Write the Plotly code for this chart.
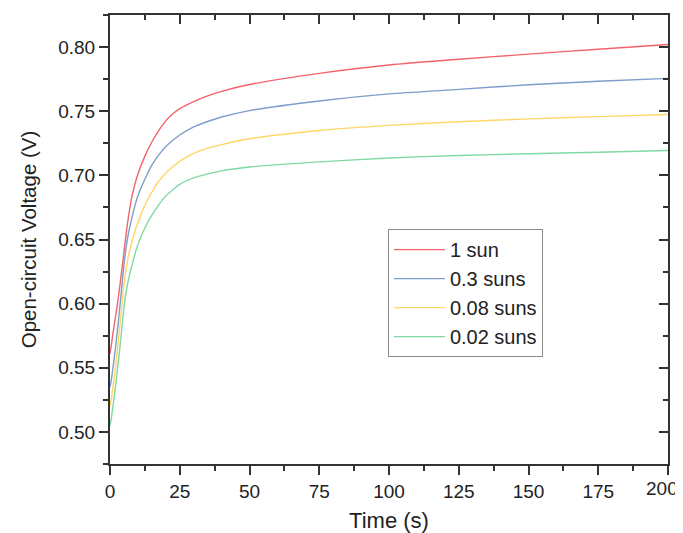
import plotly.graph_objects as go

# ---- data ----
t_red = [0, 0.5, 1, 2, 3, 4, 5, 6, 7, 8, 10, 12.5, 15, 17.5, 20, 22.5, 25, 30, 35, 40, 50, 75, 100, 125, 150, 175, 200]
v_red = [0.561, 0.568, 0.576, 0.590, 0.605, 0.622, 0.640, 0.658, 0.673, 0.685, 0.701, 0.715, 0.726, 0.735, 0.7425, 0.748, 0.752, 0.7575, 0.762, 0.7655, 0.7708, 0.7795, 0.786, 0.7905, 0.7945, 0.7983, 0.802]

t_blue = [0, 0.5, 1, 2, 3, 4, 5, 6, 7, 8, 9, 10.5, 12.5, 15, 17.5, 20, 25, 30, 35, 40, 50, 75, 100, 125, 150, 175, 200]
v_blue = [0.535, 0.541, 0.549, 0.566, 0.586, 0.608, 0.630, 0.647, 0.659, 0.668, 0.677, 0.687, 0.697, 0.708, 0.716, 0.7225, 0.7315, 0.7378, 0.742, 0.7455, 0.7505, 0.758, 0.7635, 0.767, 0.7706, 0.7734, 0.7756]

t_yel = [0, 0.5, 1, 2, 3, 4, 5, 6, 7, 9, 11, 13, 15, 18, 22, 28, 34, 40, 50, 75, 100, 125, 150, 175, 200]
v_yel = [0.520, 0.526, 0.534, 0.551, 0.571, 0.593, 0.615, 0.630, 0.641, 0.657, 0.669, 0.679, 0.687, 0.697, 0.706, 0.715, 0.7205, 0.724, 0.7285, 0.735, 0.739, 0.7418, 0.7440, 0.7458, 0.7474]

t_grn = [0, 0.5, 1, 2, 3, 4, 5, 6, 8, 10, 12.5, 15, 17.5, 20, 25, 30, 40, 50, 75, 100, 125, 150, 175, 200]
v_grn = [0.505, 0.511, 0.519, 0.536, 0.555, 0.575, 0.597, 0.612, 0.631, 0.646, 0.659, 0.669, 0.677, 0.684, 0.693, 0.698, 0.7035, 0.7065, 0.7105, 0.7135, 0.7155, 0.7168, 0.718, 0.7194]

series_names = ["1 sun", "0.3 suns", "0.08 suns", "0.02 suns"]
series_colors = ["#F2636B", "#7E9DCB", "#FFD666", "#7FD9A2"]
series_t = [t_red, t_blue, t_yel, t_grn]
series_v = [v_red, v_blue, v_yel, v_grn]

x_ticks = [0, 25, 50, 75, 100, 125, 150, 175, 200]
x_ticklabels = ["0", "25", "50", "75", "100", "125", "150", "175", "200"]
y_ticks = [0.50, 0.55, 0.60, 0.65, 0.70, 0.75, 0.80]
y_ticklabels = ["0.50", "0.55", "0.60", "0.65", "0.70", "0.75", "0.80"]

FONT = "Liberation Sans, Arial, sans-serif"
AX = "#333333"

fig = go.Figure()
for n, c, t, v in zip(series_names, series_colors, series_t, series_v):
    fig.add_trace(go.Scatter(x=t, y=v, mode="lines", name=n,
                             line=dict(color=c, width=1.4, shape="spline", smoothing=0.6)))

# invisible copy so that the top/right mirror axes get drawn
fig.add_trace(go.Scatter(x=t_red, y=v_red, xaxis="x2", yaxis="y2", mode="lines",
                         line=dict(width=0, color="rgba(0,0,0,0)"), opacity=0,
                         showlegend=False, hoverinfo="skip"))

xr = [-0.0001, 200.0001]
yr = [0.475, 0.825]

common = dict(showline=True, linecolor=AX, linewidth=2, showgrid=False, zeroline=False,
              tickcolor=AX, tickwidth=2, automargin=False)

# last x label drawn as annotation nudged inwards so it is not clipped at the window edge
shown_x_labels = x_ticklabels[:-1] + [""]

fig.update_layout(
    width=675, height=525,
    margin=dict(l=102, r=15, t=7, b=69),
    paper_bgcolor="white", plot_bgcolor="white",
    font=dict(family=FONT, color="#222222", size=19),
    showlegend=True,
    legend=dict(x=0.498, y=0.523, xanchor="left", yanchor="top",
                bordercolor="#8a8a8a", borderwidth=1, bgcolor="white",
                font=dict(size=20, family=FONT, color="#222222"),
                itemwidth=51, tracegroupgap=0),
    xaxis=dict(range=xr, tickmode="array", tickvals=x_ticks, ticktext=shown_x_labels,
               ticks="outside", ticklen=9,
               minor=dict(dtick=12.5, tick0=0, ticks="outside", ticklen=5, tickcolor=AX, tickwidth=2),
               title=dict(text="Time (s)", font=dict(size=22, family=FONT), standoff=12),
               tickfont=dict(size=19, family=FONT), **common),
    yaxis=dict(range=yr, tickmode="array", tickvals=y_ticks, ticktext=y_ticklabels,
               ticks="outside", ticklen=9,
               minor=dict(dtick=0.025, tick0=0.5, ticks="outside", ticklen=5, tickcolor=AX, tickwidth=2),
               title=dict(text="Open-circuit Voltage (V)", font=dict(size=20.5, family=FONT), standoff=16),
               tickfont=dict(size=19, family=FONT), **common),
    xaxis2=dict(range=xr, overlaying="x", side="top", anchor="y2", tickmode="array",
                tickvals=x_ticks, ticks="inside", ticklen=9, showticklabels=False,
                minor=dict(dtick=12.5, tick0=0, ticks="inside", ticklen=5, tickcolor=AX, tickwidth=2),
                **common),
    yaxis2=dict(range=yr, overlaying="y", side="right", anchor="x2", tickmode="array",
                tickvals=y_ticks, ticks="inside", ticklen=9, showticklabels=False,
                minor=dict(dtick=0.025, tick0=0.5, ticks="inside", ticklen=5, tickcolor=AX, tickwidth=2),
                **common),
    annotations=[dict(x=x_ticks[-1], xref="x", y=0, yref="paper", yanchor="top",
                      xanchor="right", xshift=12, yshift=-12, showarrow=False,
                      text=x_ticklabels[-1], font=dict(size=19, family=FONT, color="#222222"))],
)

fig.write_html("out.html")
